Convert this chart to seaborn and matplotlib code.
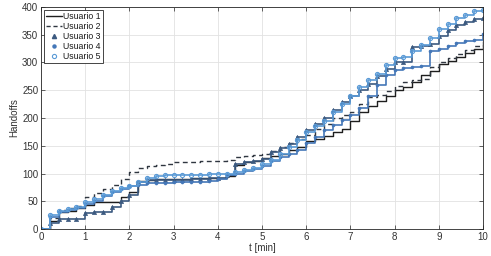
import numpy as np
import pandas as pd
import matplotlib
matplotlib.use("Agg")
import matplotlib.pyplot as plt
from matplotlib.lines import Line2D
import seaborn as sns

# ---------------- data ----------------
t = [0.0, 0.2, 0.4, 0.6, 0.8, 1.0, 1.2, 1.4, 1.6, 1.8,
     2.0, 2.2, 2.4, 2.6, 2.8, 3.0, 3.2, 3.4, 3.6, 3.8,
     4.0, 4.2, 4.4, 4.6, 4.8, 5.0, 5.2, 5.4, 5.6, 5.8,
     6.0, 6.2, 6.4, 6.6, 6.8, 7.0, 7.2, 7.4, 7.6, 7.8,
     8.0, 8.2, 8.4, 8.6, 8.8, 9.0, 9.2, 9.4, 9.6, 9.8, 10.0]

usuario1 = [0, 15, 30, 33, 38, 43, 48, 48, 48, 58,
            67, 86, 88, 90, 90, 90, 90, 91, 91, 92,
            92, 95, 115, 120, 122, 128, 132, 136, 142, 148,
            158, 163, 168, 174, 180, 195, 210, 222, 230, 240,
            250, 256, 265, 277, 285, 298, 303, 310, 317, 325, 331]

usuario2 = [0, 20, 34, 38, 42, 58, 65, 72, 80, 90,
            103, 110, 114, 116, 118, 120, 121, 121, 122, 122,
            123, 124, 130, 132, 134, 135, 140, 147, 155, 163,
            170, 180, 190, 200, 206, 210, 225, 238, 242, 248,
            258, 265, 268, 270, 292, 300, 308, 315, 322, 330, 340]

usuario3 = [0, 10, 18, 18, 18, 29, 30, 31, 40, 50,
            62, 85, 88, 88, 89, 89, 89, 90, 90, 91,
            92, 98, 118, 120, 122, 126, 138, 146, 154, 165,
            178, 190, 200, 215, 228, 240, 250, 262, 275, 288,
            300, 301, 328, 330, 333, 348, 358, 368, 373, 378, 381]

usuario4 = [0, 22, 30, 35, 38, 45, 50, 60, 66, 72,
            77, 80, 82, 83, 83, 84, 84, 84, 85, 86,
            90, 97, 100, 104, 108, 114, 122, 130, 136, 142,
            155, 165, 178, 188, 196, 205, 218, 240, 260, 278,
            287, 290, 291, 293, 320, 325, 330, 335, 338, 341, 352]

usuario5 = [0, 25, 32, 36, 40, 48, 54, 62, 68, 74,
            78, 84, 92, 96, 97, 97, 97, 98, 98, 99,
            100, 100, 103, 106, 110, 118, 125, 135, 148, 160,
            175, 185, 195, 210, 225, 240, 255, 268, 280, 295,
            308, 310, 320, 332, 345, 360, 370, 380, 385, 392, 395]

labels = ["Usuario 1", "Usuario 2", "Usuario 3", "Usuario 4", "Usuario 5"]
x_ticks = [0, 1, 2, 3, 4, 5, 6, 7, 8, 9, 10]
y_ticks = [0, 50, 100, 150, 200, 250, 300, 350, 400]

# ---------------- style ----------------
sns.set_theme(style="whitegrid")
plt.rcParams["font.family"] = ["Liberation Sans", "DejaVu Sans"]

fig = plt.figure(figsize=(4.91, 2.56), dpi=100)
ax = fig.add_axes([41 / 491, 1 - 229 / 256, 442 / 491, 222 / 256])

c1 = "#1e1e1e"
c2 = "#2f3640"
c3 = "#3c5a80"
c4 = "#4477b8"
c5 = "#5a9ad6"
txt = "#333333"

sns.lineplot(x=t, y=usuario1, ax=ax, color=c1, lw=1.0, drawstyle="steps-post")
sns.lineplot(x=t, y=usuario2, ax=ax, color=c2, lw=1.0, drawstyle="steps-post",
             linestyle=(0, (3.5, 2.5)))
sns.lineplot(x=t, y=usuario3, ax=ax, color=c3, lw=1.2, drawstyle="steps-post",
             marker="^", markersize=3.0, markeredgewidth=0.5,
             markerfacecolor=c3, markeredgecolor=c3)
sns.lineplot(x=t, y=usuario4, ax=ax, color=c4, lw=1.2, drawstyle="steps-post",
             marker="o", markersize=2.2, markeredgewidth=0.4,
             markerfacecolor=c4, markeredgecolor=c4)
sns.lineplot(x=t, y=usuario5, ax=ax, color=c5, lw=1.2, drawstyle="steps-post",
             marker="o", markersize=3.0, markeredgewidth=0.8,
             markerfacecolor="none", markeredgecolor=c5)

ax.set_xlim(0, 10)
ax.set_ylim(0, 400)
ax.set_xticks(x_ticks)
ax.set_yticks(y_ticks)
ax.set_xlabel("t [min]", fontsize=7, color=txt, labelpad=1)
ax.set_ylabel("Handoffs", fontsize=7, color=txt, labelpad=2)

ax.grid(True, color="#e2e2e2", lw=0.6)
for s in ax.spines.values():
    s.set_visible(True)
    s.set_color("#262626")
    s.set_linewidth(0.6)
ax.tick_params(axis="both", direction="in", length=3, width=0.5,
               labelsize=7, colors="#262626", labelcolor=txt, pad=2,
               top=True, right=True, bottom=True, left=True)
ax.set_facecolor("white")

handles = [
    Line2D([], [], color=c1, lw=1.0),
    Line2D([], [], color=c2, lw=1.0, linestyle=(0, (3.0, 2.0))),
    Line2D([], [], color=c3, lw=0, marker="^", markersize=3.0,
           markerfacecolor=c3, markeredgecolor=c3),
    Line2D([], [], color=c4, lw=0, marker="o", markersize=2.2,
           markerfacecolor=c4, markeredgecolor=c4),
    Line2D([], [], color=c5, lw=0, marker="o", markersize=3.0,
           markerfacecolor="none", markeredgecolor=c5, markeredgewidth=0.8),
]
leg = ax.legend(handles, labels, loc="upper left", fontsize=6.3,
                frameon=True, fancybox=False, edgecolor="#262626",
                framealpha=1, borderpad=0.25, labelspacing=0.12,
                handlelength=1.8, handletextpad=0.2,
                borderaxespad=0.3)
leg.get_frame().set_linewidth(0.6)
for tx in leg.get_texts():
    tx.set_color("#1a1a1a")

fig.savefig("out.png", dpi=100, facecolor="white")
